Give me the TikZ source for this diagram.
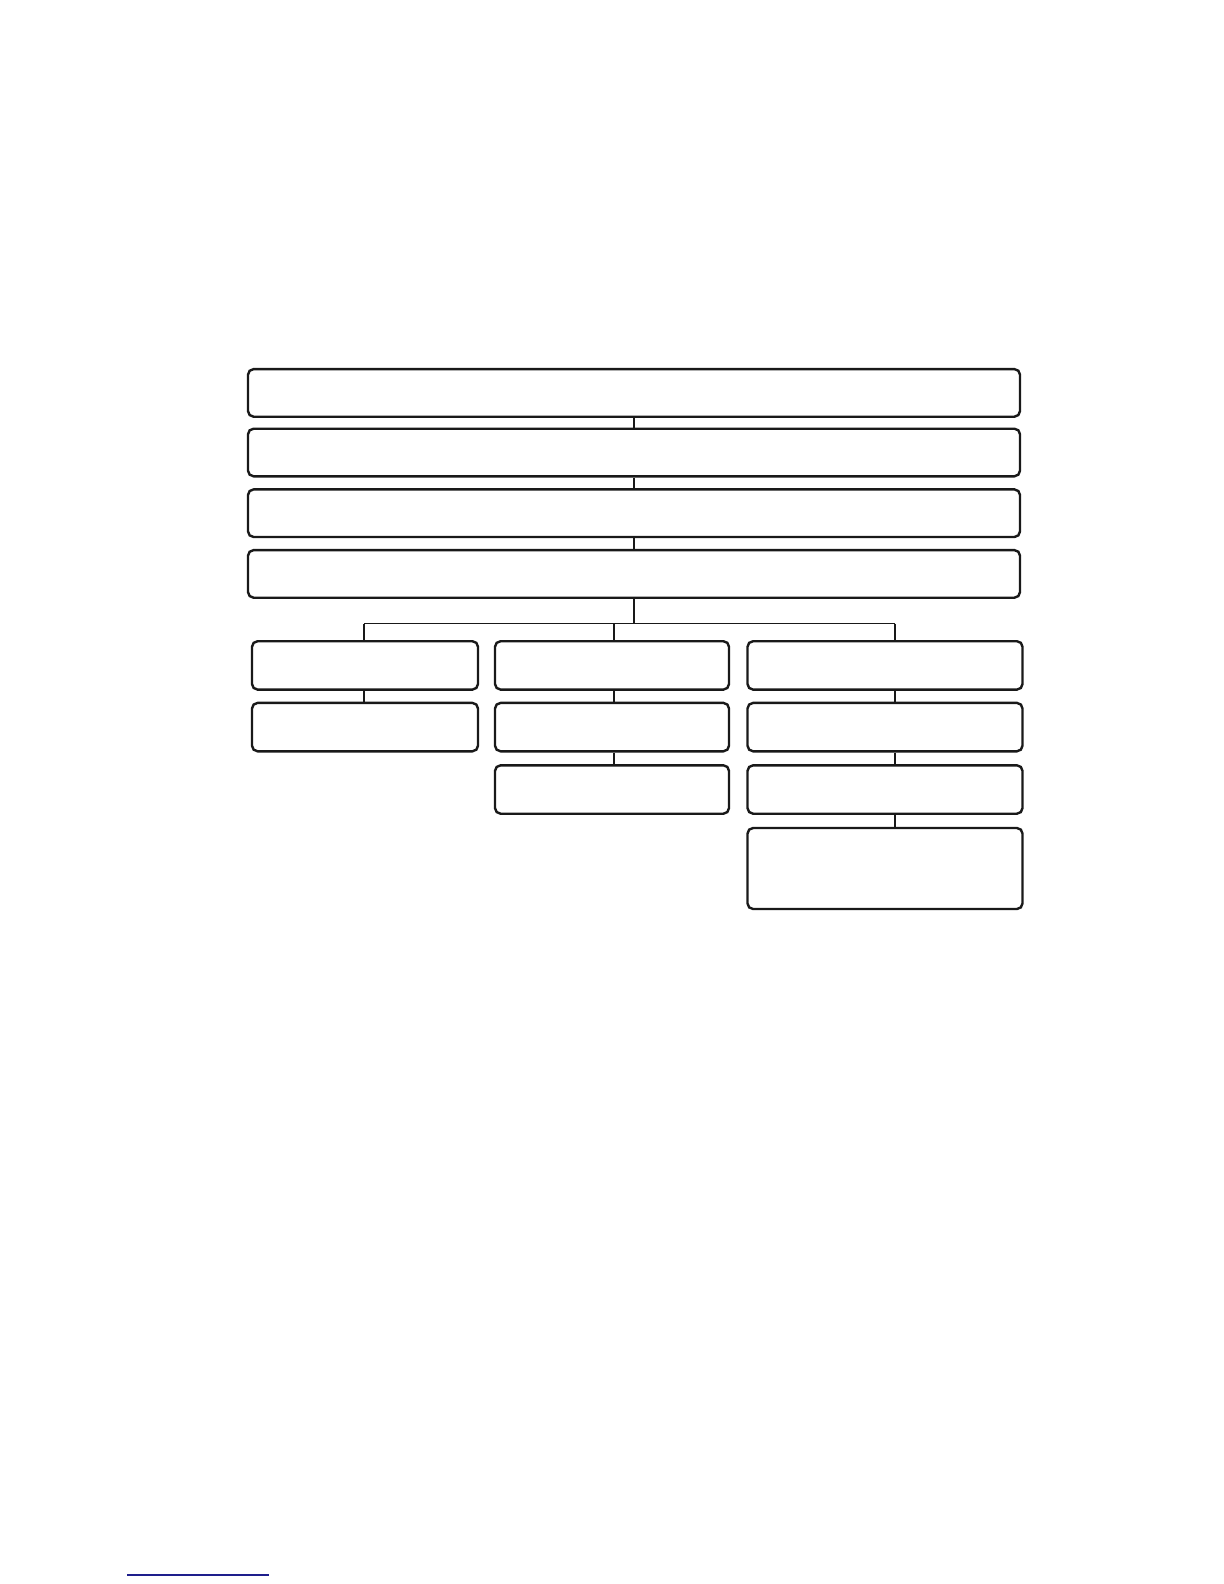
\documentclass[tikz,border=0pt]{standalone}
\usepackage{tikz}
\usetikzlibrary{positioning}
\definecolor{linkblue}{RGB}{30,30,140}

\begin{document}
\begin{tikzpicture}[x=0.5pt,y=-0.5pt,
	box/.style={draw=black!90,line width=1.2pt,rounded corners=2.8pt,inner sep=0pt,minimum height=24.2pt},
	widebox/.style={box,minimum width=386pt,minimum height=23.8pt},
	link/.style={black!90,line width=1.2pt}]
\useasboundingbox (0,0) rectangle (1224,1584);
% top chain
\foreach \i/\y in {1/392.9,2/452.5,3/513.2,4/573.9}
	\node [widebox] (top\i) at (634,\y) {};
\foreach \i/\j in {1/2,2/3,3/4}
	\draw [link] (top\i) -- (top\j);
% three columns
\foreach \c/\x/\w in {1/365/113pt,2/612/117pt,3/885/137.5pt}
	\foreach \r/\y in {1/665.4,2/727.1}
		\node [box,minimum width=\w] (c\c r\r) at (\x,\y) {};
\node [box,minimum width=117pt] (c2r3) at (612,789.5) {};
\node [box,minimum width=137.5pt] (c3r3) at (885,789.5) {};
\node [box,minimum width=137.5pt,minimum height=40.5pt] (c3r4) at (885,868.5) {};
% bus
\coordinate (bus) at (634,623.5);
\coordinate (j1) at (364,623.5);
\coordinate (j2) at (614,623.5);
\coordinate (j3) at (895,623.5);
\draw [link,line width=1.4pt] (top4) -- (bus);
\draw [link,line width=0.85pt] (j1) -- (j3);
\foreach \c in {1,2,3}
	\draw [link,line width=0.85pt] (j\c) -- (j\c |- c\c r1.north);
\draw [link] (j1 |- c1r1.south) -- (j1 |- c1r2.north);
\foreach \r/\s in {1/2,2/3}
	\draw [link,line width=0.9pt] (j2 |- c2r\r.south) -- (j2 |- c2r\s.north);
\foreach \r/\s in {1/2,2/3,3/4}
	\draw [link,line width=0.9pt] (j3 |- c3r\r.south) -- (j3 |- c3r\s.north);
% footnote rule
\draw [linkblue,line width=0.8pt] (127,1575) -- (269,1575);
\end{tikzpicture}
\end{document}
